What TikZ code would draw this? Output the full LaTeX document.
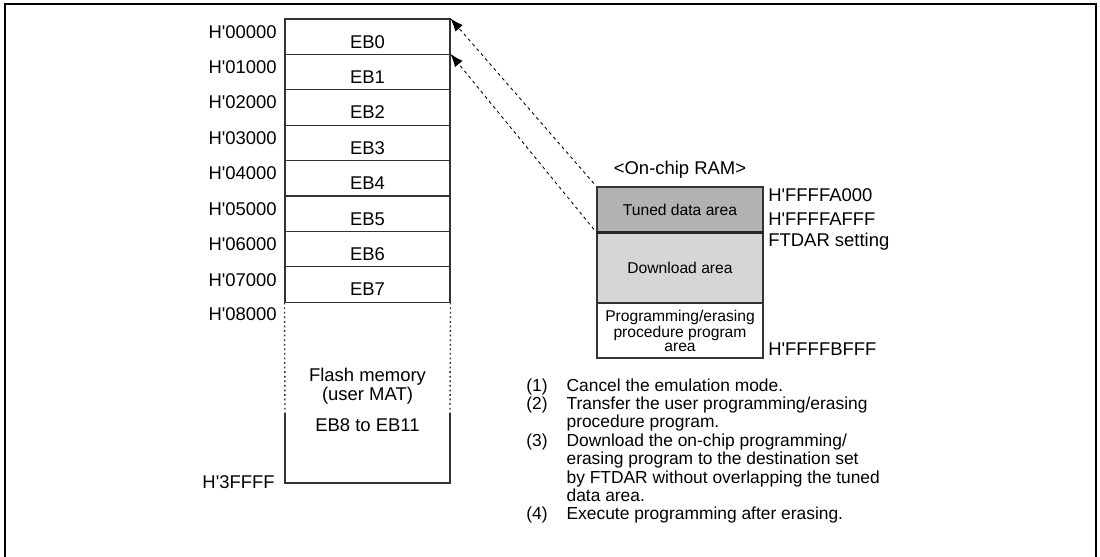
\documentclass[tikz,border=0pt]{standalone}
\usepackage{fontspec}
\setmainfont{Liberation Sans}
\usetikzlibrary{arrows.meta}
\definecolor{tunedgray}{gray}{0.70}
\definecolor{loadgray}{gray}{0.84}
\definecolor{linegray}{gray}{0.20}
\newcommand{\hq}{H\textquotesingle}

\begin{document}
\begin{tikzpicture}[
    x=0.02cm, y=-0.02cm,
    font=\fontsize{10.5}{12}\selectfont,
    memline/.style={draw=linegray, line width=0.6pt},
    sideline/.style={draw=linegray, line width=0.8pt, dash pattern=on 1pt off 1.6pt},
    ebrow/.style={draw=linegray, line width=0.6pt, rectangle, minimum width=3.3cm,
                  minimum height=0.708cm, inner sep=0pt, text height=13pt, text depth=0pt},
    addr/.style={anchor=east, inner sep=0pt},
    ramaddr/.style={anchor=west, inner sep=0pt},
    ram/.style={draw=linegray, line width=0.6pt, rectangle, minimum width=3.32cm,
                inner sep=0pt, align=center, font=\fontsize{8.9}{7.7}\selectfont},
    arr/.style={-{Latex[length=7.4pt,width=5.6pt]}, dash pattern=on 1.8pt off 1.9pt,
                line width=0.5pt, shorten <=0.08cm},
  ]
  \useasboundingbox (0,0) rectangle (1100,557);

  %% outer frame (open at the bottom)
  \draw[line width=1.5pt] (5,557) -- (5,4) -- (1096,4) -- (1096,557);

  %% ================================================================
  %% Flash memory (user MAT)
  %% ================================================================
  \node[ebrow] (eb0) at (367.5,  36.7) {EB0};
  \node[ebrow] (eb1) at (367.5,  72.1) {EB1};
  \node[ebrow] (eb2) at (367.5, 107.5) {EB2};
  \node[ebrow] (eb3) at (367.5, 142.9) {EB3};
  \node[ebrow] (eb4) at (367.5, 178.3) {EB4};
  \node[ebrow] (eb5) at (367.5, 213.7) {EB5};
  \node[ebrow] (eb6) at (367.5, 249.1) {EB6};
  \node[ebrow] (eb7) at (367.5, 284.5) {EB7};

  \draw[sideline] (eb7.south west) -- (285,413);
  \draw[sideline] (eb7.south east) -- (450,413);
  \draw[memline] (285,413) -- (285,483) -- (450,483) -- (450,413);

  \node[align=center, font=\fontsize{10.5}{9.7}\selectfont] (flash) at (367.5,400)
    {Flash memory\\(user MAT)\\[8pt]EB8 to EB11};

  \node[addr] (addr0) at (277,  32) {\hq 00000};
  \node[addr] (addr1) at (277,  67) {\hq 01000};
  \node[addr] (addr2) at (277, 102) {\hq 02000};
  \node[addr] (addr3) at (277, 138) {\hq 03000};
  \node[addr] (addr4) at (277, 173) {\hq 04000};
  \node[addr] (addr5) at (277, 209) {\hq 05000};
  \node[addr] (addr6) at (277, 244) {\hq 06000};
  \node[addr] (addr7) at (277, 280) {\hq 07000};
  \node[addr] (addr8) at (277, 314) {\hq 08000};
  \node[addr] (addrE) at (275, 482) {\hq 3FFFF};

  %% ================================================================
  %% On-chip RAM
  %% ================================================================
  \node (onchip) at (680,170) {<On-chip RAM>};

  \node[ram, fill=tunedgray, minimum height=0.9cm]  (tuned) at (680,209.5) {Tuned data area};
  \node[ram, fill=loadgray,  minimum height=1.42cm] (load)  at (680,267.5) {Download area};
  \node[ram, minimum height=1.1cm] (proc) at (680,330.5)
    {Programming/erasing\\procedure program\\area};
  \draw[line width=1.4pt, draw=black!85] (tuned.south west) -- (tuned.south east);

  \node[ramaddr] (ramA) at (768,195) {\hq FFFFA000};
  \node[ramaddr] (ramB) at (768,219) {\hq FFFFAFFF};
  \node[ramaddr] (ramC) at (768,242) {FTDAR setting};
  \node[ramaddr] (ramD) at (768,349) {\hq FFFFBFFF};

  \draw[arr] (tuned.north west) -- (eb0.north east);
  \draw[arr] (tuned.south west) -- (eb1.north east);

  %% ================================================================
  %% Steps
  %% ================================================================
  \node[anchor=north west, inner sep=0pt, font=\fontsize{9.9}{10.45}\selectfont] (steps) at (526,378)
    {\begin{tabular}{@{}l@{\hspace{0.38cm}}l@{}}
      (1) & Cancel the emulation mode.\\
      (2) & Transfer the user programming/erasing\\
          & procedure program.\\
      (3) & Download the on-chip programming/\\
          & erasing program to the destination set\\
          & by FTDAR without overlapping the tuned\\
          & data area.\\
      (4) & Execute programming after erasing.
    \end{tabular}};

\end{tikzpicture}
\end{document}
